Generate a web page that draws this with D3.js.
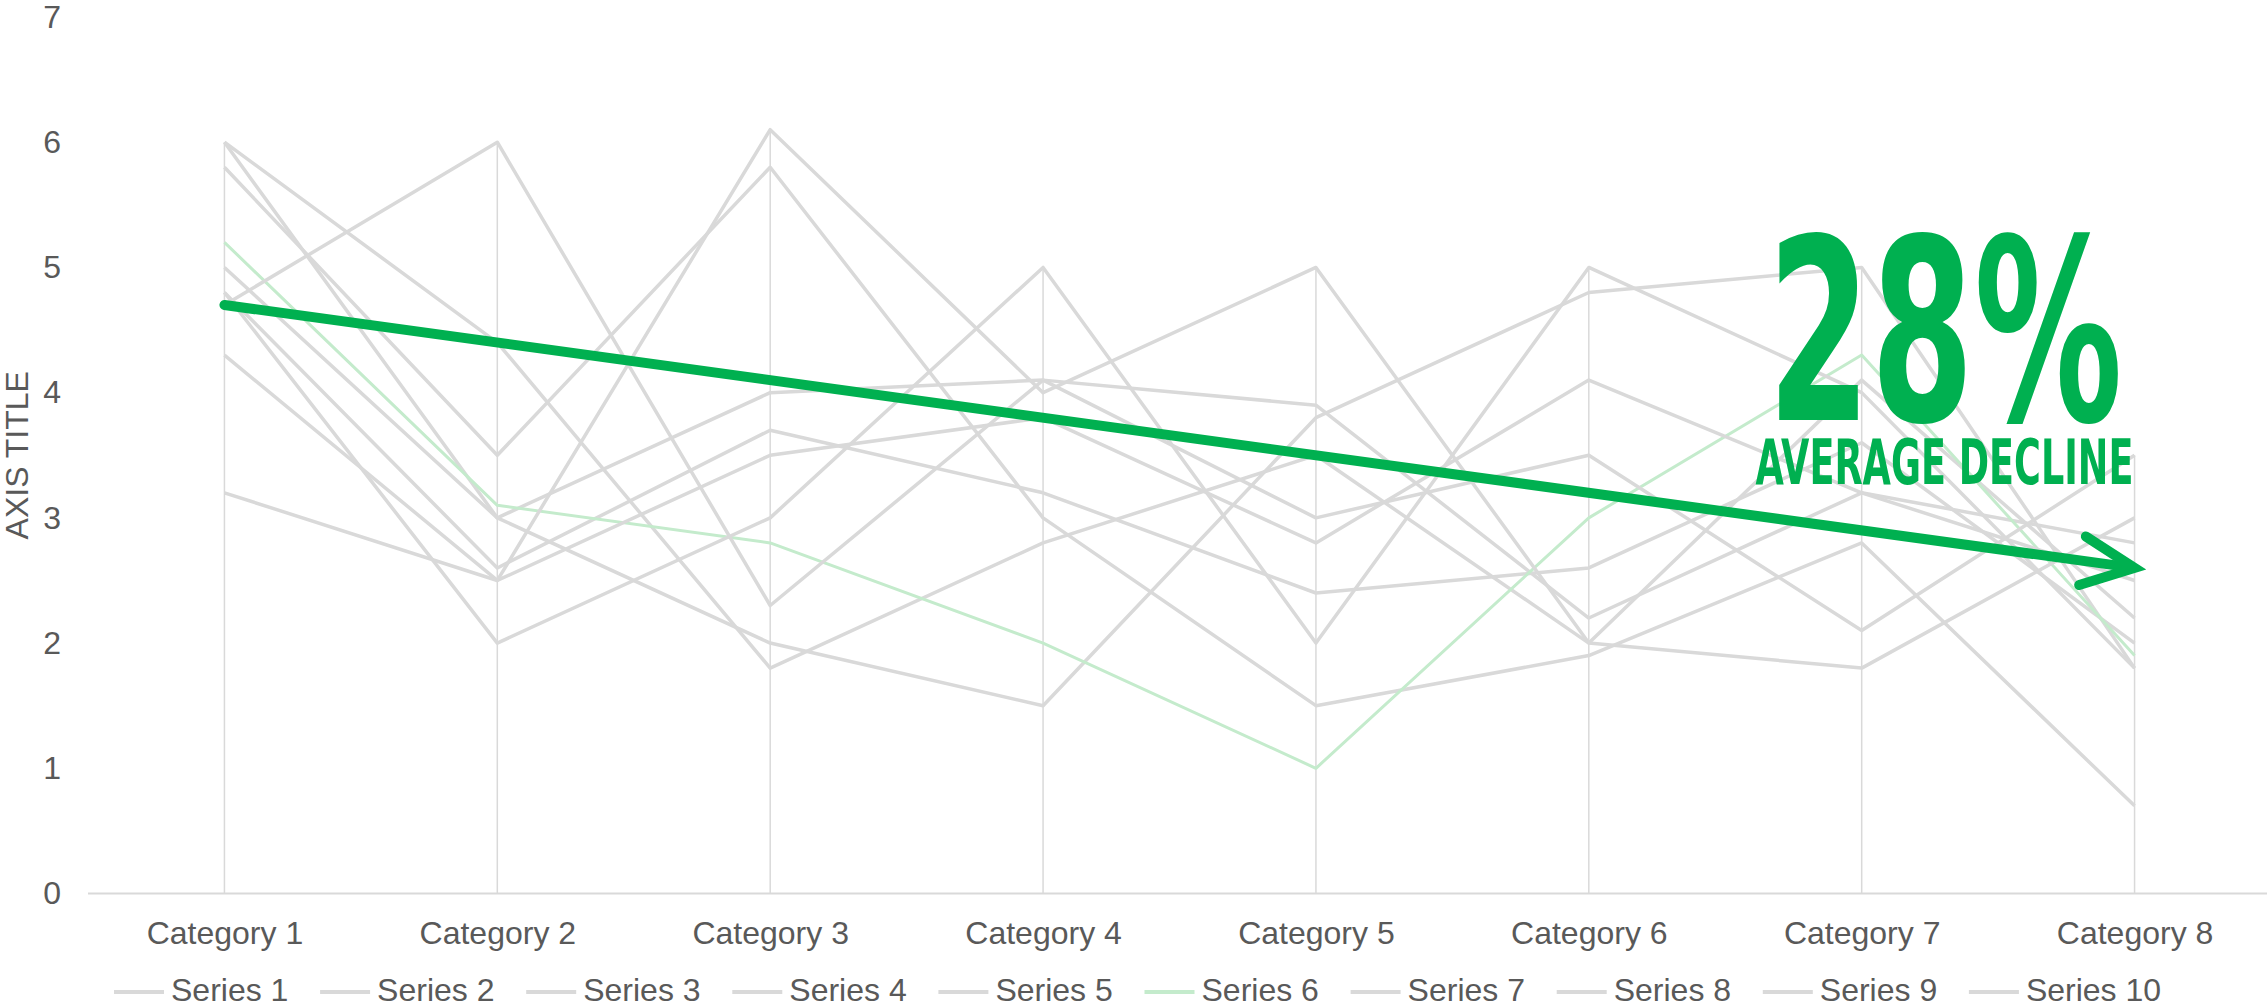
<!DOCTYPE html>
<html>
<head>
<meta charset="utf-8">
<script src="https://cdn.jsdelivr.net/npm/d3@7"></script>
<style>
  body { margin: 0; background: #fff; }
  text { font-family: "Liberation Sans", Arial, sans-serif; }
</style>
</head>
<body>
<div id="myDiv"></div>
<script>
//--------------------------------------------------
// Data
//--------------------------------------------------
var categories = ['Category 1', 'Category 2', 'Category 3', 'Category 4',
                  'Category 5', 'Category 6', 'Category 7', 'Category 8'];

var series1  = [6.0, 4.4, 1.8, 2.8, 3.5, 2.0, 4.1, 2.2];
var series2  = [6.0, 3.0, 2.0, 1.5, 3.8, 4.8, 5.0, 1.8];
var series3  = [5.8, 3.5, 5.8, 3.0, 1.5, 1.9, 2.8, 0.7];
var series4  = [5.0, 3.0, 4.0, 4.1, 3.9, 2.2, 3.2, 2.8];
var series5  = [4.8, 2.6, 3.7, 3.2, 2.4, 2.6, 3.6, 2.0];
var series6  = [5.2, 3.1, 2.8, 2.0, 1.0, 3.0, 4.3, 1.9];
var series7  = [4.7, 6.0, 2.3, 4.1, 3.0, 3.5, 2.1, 3.5];
var series8  = [4.8, 2.0, 3.0, 5.0, 2.0, 5.0, 4.0, 1.8];
var series9  = [4.3, 2.5, 3.5, 3.8, 2.8, 4.1, 3.2, 2.5];
var series10 = [3.2, 2.5, 6.1, 4.0, 5.0, 2.0, 1.8, 3.0];

var seriesNames = ['Series 1', 'Series 2', 'Series 3', 'Series 4', 'Series 5',
                   'Series 6', 'Series 7', 'Series 8', 'Series 9', 'Series 10'];
var highlighted = 'Series 6';

var yTicks = [0, 1, 2, 3, 4, 5, 6, 7];
var axisTitle = 'AXIS TITLE';

// trend arrow: from first to last category
var arrowStart = 4.7;
var arrowEnd = 2.6;
var bigNumber = '28%';
var bigLabel = 'AVERAGE DECLINE';

//--------------------------------------------------
// Styles
//--------------------------------------------------
var lineColor = '#d9d9d9';
var textColor = '#595959';
var accent = '#00b050';
var lightAccent = '#c4ebcc';

var width = 2267, height = 1008;
var plot = { left: 88, right: 2271, top: 17, bottom: 893.5 };

var allSeries = [series1, series2, series3, series4, series5,
                 series6, series7, series8, series9, series10];
var data = seriesNames.map(function (name, i) {
  return { name: name, values: allSeries[i] };
});

var svg = d3.select('#myDiv')
  .append('svg')
    .attr('width', width)
    .attr('height', height)
    .style('display', 'block');

var x = d3.scalePoint()
  .domain(categories)
  .range([plot.left, plot.right])
  .padding(0.5);

var y = d3.scaleLinear()
  .domain([0, 7])
  .range([plot.bottom, plot.top]);

// drop lines: from highest value of each category down to the axis
var maxByCat = categories.map(function (c, i) {
  return d3.max(allSeries, function (s) { return s[i]; });
});
svg.append('g')
  .selectAll('line')
  .data(categories)
  .enter().append('line')
    .attr('x1', function (d) { return x(d); })
    .attr('x2', function (d) { return x(d); })
    .attr('y1', function (d, i) { return y(maxByCat[i]); })
    .attr('y2', y(0))
    .attr('stroke', lineColor)
    .attr('stroke-width', 1.5);

// y axis
var yAxis = svg.append('g')
  .attr('transform', 'translate(' + plot.left + ',0)')
  .call(d3.axisLeft(y).tickValues(yTicks).tickSize(0).tickPadding(27).tickFormat(d3.format('d')));
yAxis.select('.domain').remove();
yAxis.selectAll('text')
  .attr('fill', textColor)
  .style('font-size', '32px');

// x axis
var xAxis = svg.append('g')
  .attr('transform', 'translate(0,' + y(0) + ')')
  .call(d3.axisBottom(x).tickSize(0).tickPadding(28));
xAxis.select('.domain')
  .attr('d', 'M' + plot.left + ',0H' + width)
  .attr('stroke', lineColor)
  .attr('stroke-width', 2);
xAxis.selectAll('text')
  .attr('fill', textColor)
  .style('font-size', '32px');

// axis title
svg.append('text')
  .attr('transform', 'translate(17,' + ((plot.top + plot.bottom) / 2) + ') rotate(-90)')
  .attr('text-anchor', 'middle')
  .attr('dominant-baseline', 'central')
  .attr('fill', textColor)
  .style('font-size', '32px')
  .text(axisTitle);

// series lines
var line = d3.line()
  .x(function (d, i) { return x(categories[i]); })
  .y(function (d) { return y(d); });

svg.append('g')
  .selectAll('path')
  .data(data)
  .enter().append('path')
    .attr('d', function (d) { return line(d.values); })
    .attr('fill', 'none')
    .attr('stroke', function (d) { return d.name === highlighted ? lightAccent : lineColor; })
    .attr('stroke-width', function (d) { return d.name === highlighted ? 3 : 3.5; })
    .attr('stroke-linejoin', 'round');

// trend arrow
var x0 = x(categories[0]), y0 = y(arrowStart);
var x1 = x(categories[categories.length - 1]), y1 = y(arrowEnd);
var ang = Math.atan2(y0 - y1, x0 - x1);
var headLen = 58, headAng = 25 * Math.PI / 180;
var arrow = svg.append('g')
  .attr('fill', 'none')
  .attr('stroke', accent)
  .attr('stroke-width', 10)
  .attr('stroke-linecap', 'round');
arrow.append('line')
  .attr('x1', x0).attr('y1', y0)
  .attr('x2', x1 - 6 * Math.cos(ang + Math.PI)).attr('y2', y1 - 6 * Math.sin(ang + Math.PI));
arrow.append('path')
  .attr('stroke-linejoin', 'miter')
  .attr('d', 'M' + (x1 + headLen * Math.cos(ang - headAng)) + ',' + (y1 + headLen * Math.sin(ang - headAng)) +
             'L' + x1 + ',' + y1 +
             'L' + (x1 + headLen * Math.cos(ang + headAng)) + ',' + (y1 + headLen * Math.sin(ang + headAng)));

// annotation: condensed bold text squeezed to the width seen in the original
function squeezedText(str, right, baseline, size, targetWidth) {
  var t = svg.append('text')
    .attr('x', 0)
    .attr('y', 0)
    .attr('fill', accent)
    .style('font-family', '"DejaVu Sans Condensed", "DejaVu Sans", sans-serif')
    .style('font-stretch', 'condensed')
    .style('font-weight', 'bold')
    .style('font-size', size + 'px')
    .text(str);
  var w = t.node().getComputedTextLength();
  var k = targetWidth / w;
  t.attr('transform', 'translate(' + (right - targetWidth) + ',' + baseline + ') scale(' + k + ',1)');
  return t;
}
squeezedText(bigNumber, x1 - 12, 420, 254, 355);
squeezedText(bigLabel, x1 - 1, 484, 62, 378);

// legend
var legend = svg.append('g')
  .selectAll('g')
  .data(data)
  .enter().append('g')
    .attr('transform', function (d, i) { return 'translate(' + (171 + i * 206.1) + ',0)'; });
legend.append('line')
  .attr('x1', -57).attr('x2', -7)
  .attr('y1', 992).attr('y2', 992)
  .attr('stroke', function (d) { return d.name === highlighted ? lightAccent : lineColor; })
  .attr('stroke-width', 4);
legend.append('text')
  .attr('x', 0)
  .attr('y', 1001)
  .attr('fill', textColor)
  .style('font-size', '32px')
  .text(function (d) { return d.name; });
</script>
</body>
</html>
